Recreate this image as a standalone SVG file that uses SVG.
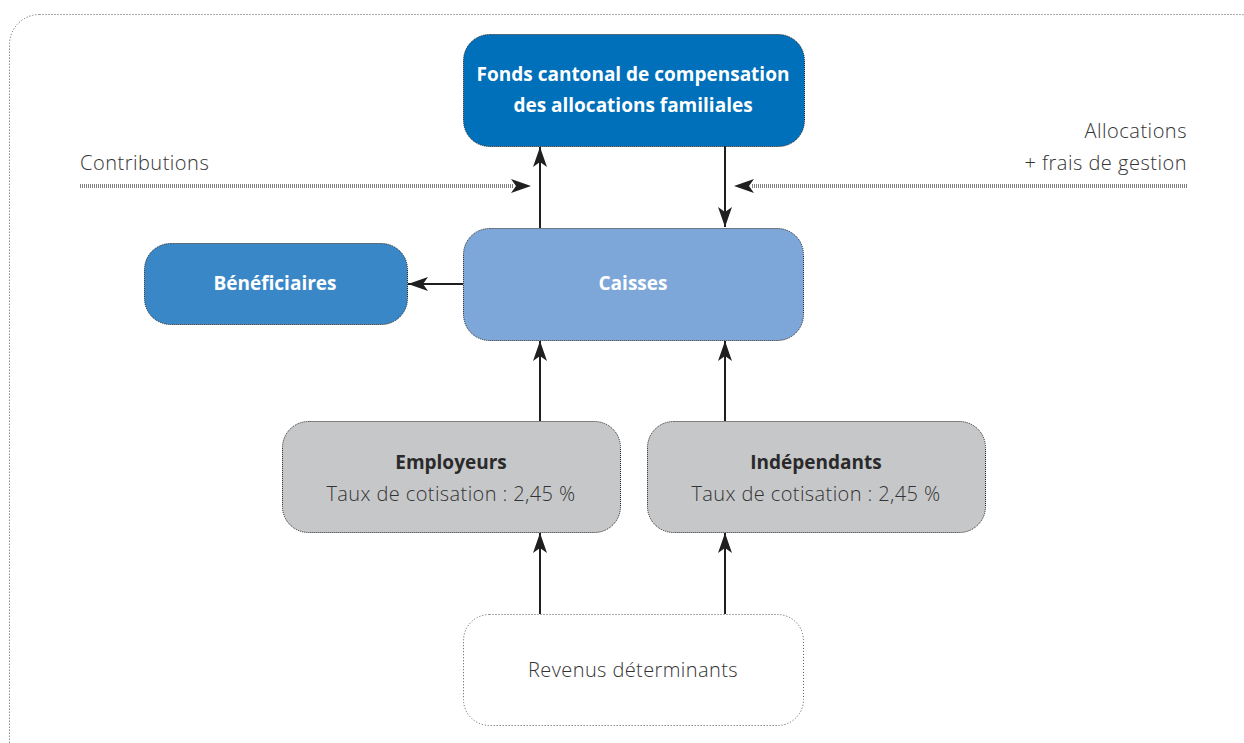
<svg xmlns="http://www.w3.org/2000/svg" width="1244" height="743" viewBox="0 0 1244 743">
  <defs>
    <marker id="head" viewBox="0 0 20 14" refX="20" refY="7" markerWidth="20" markerHeight="14" markerUnits="userSpaceOnUse" orient="auto">
      <path d="M0,0 L20,7 L0,14 L5,7 Z" fill="#1f1f1f"/>
    </marker>
  </defs>
  <style>
    .frame { fill: none; stroke: #555; stroke-width: 1; stroke-dasharray: 1 2; }
    .box { stroke: #1a1a1a; stroke-width: 1; stroke-dasharray: 1 1; }
    .dark { fill: #0070ba; }
    .mid { fill: #3a87c8; }
    .light { fill: #7da7d9; }
    .grey { fill: #c6c7c9; }
    .plain { fill: #ffffff; stroke: #555; stroke-width: 1; stroke-dasharray: 1 2; }
    .link { stroke: #1f1f1f; stroke-width: 2; fill: none; marker-end: url(#head); }
    .flow { stroke: #808080; stroke-width: 4; stroke-dasharray: 1 1; fill: none; }
    .flowhead { stroke: #1f1f1f; stroke-width: 0; fill: none; marker-end: url(#head); }
    text { font-family: "Open Sans", "Liberation Sans", sans-serif; }
    .title { font-size: 19px; font-weight: 700; fill: #ffffff; text-anchor: middle; }
    .head { font-size: 19px; font-weight: 700; fill: #2a2a2a; text-anchor: middle; }
    .body { font-size: 20px; font-weight: 300; fill: #333333; text-anchor: middle; letter-spacing: 0.4px; }
    .side { font-size: 20px; font-weight: 300; fill: #333333; letter-spacing: 0.5px; }
  </style>

  <!-- outer frame -->
  <rect class="frame" x="9.5" y="14.5" width="1260" height="760" rx="30"/>

  <!-- flows in/out of the fund -->
  <g id="flows">
    <text class="side" x="80" y="170">Contributions</text>
    <text class="side" x="1187" y="138" text-anchor="end">Allocations</text>
    <text class="side" x="1187" y="170" text-anchor="end">+ frais de gestion</text>
  </g>

  <g id="connectors">
    <line class="flow" x1="80" y1="186" x2="514" y2="186"/>
    <line class="flowhead" x1="500" y1="186" x2="531" y2="186"/>
    <line class="flow" x1="1187" y1="186" x2="752" y2="186"/>
    <line class="flowhead" x1="766" y1="186" x2="734" y2="186"/>

    <line class="link" x1="540" y1="228" x2="540" y2="147"/>
    <line class="link" x1="725" y1="146" x2="725" y2="227"/>
    <line class="link" x1="463" y1="284" x2="408" y2="284"/>
    <line class="link" x1="540" y1="421" x2="540" y2="341"/>
    <line class="link" x1="725" y1="421" x2="725" y2="341"/>
    <line class="link" x1="540" y1="614" x2="540" y2="533"/>
    <line class="link" x1="725" y1="614" x2="725" y2="533"/>
  </g>

  <g id="fonds">
    <rect class="box dark" x="463.5" y="34.5" width="341" height="112" rx="26"/>
    <text class="title" x="633" y="81">Fonds cantonal de compensation</text>
    <text class="title" x="633" y="112">des allocations familiales</text>
  </g>

  <g id="caisses">
    <rect class="box light" x="463.5" y="228.5" width="340" height="112" rx="26"/>
    <text class="title" x="633" y="290">Caisses</text>
  </g>

  <g id="beneficiaires">
    <rect class="box mid" x="144.5" y="243.5" width="263" height="81" rx="26"/>
    <text class="title" x="275" y="290">Bénéficiaires</text>
  </g>

  <g id="employeurs">
    <rect class="box grey" x="282.5" y="421.5" width="338" height="111" rx="26"/>
    <text class="head" x="451" y="469">Employeurs</text>
    <text class="body" x="451" y="501">Taux de cotisation : 2,45 %</text>
  </g>

  <g id="independants">
    <rect class="box grey" x="647.5" y="421.5" width="338" height="111" rx="26"/>
    <text class="head" x="816" y="469">Indépendants</text>
    <text class="body" x="816" y="501">Taux de cotisation : 2,45 %</text>
  </g>

  <g id="revenus">
    <rect class="plain" x="463.5" y="614.5" width="340" height="111" rx="26"/>
    <text class="body" x="633" y="677">Revenus déterminants</text>
  </g>
</svg>
